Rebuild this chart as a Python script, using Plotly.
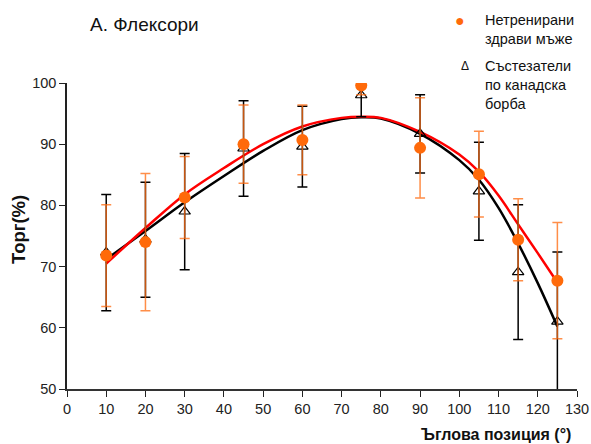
import plotly.graph_objects as go

# ---- data ----
angles = [10, 20, 30, 45, 60, 75, 90, 105, 115, 125]

untrained_mean = [71.8, 74.0, 81.3, 90.0, 90.7, 99.6, 89.4, 85.1, 74.4, 67.7]
untrained_sd = [8.3, 11.2, 6.7, 6.4, 5.7, 1.5, 8.2, 7.0, 6.7, 9.5]

wrestlers_mean = [72.3, 74.4, 79.0, 89.3, 89.6, 98.0, 91.7, 82.3, 69.1, 61.0]
wrestlers_sd = [9.5, 9.4, 9.5, 7.8, 6.6, 3.5, 6.4, 8.0, 11.0, 11.4]

fit_x = [10, 20, 30, 40, 50, 60, 70, 75, 80, 90, 100, 105, 110, 115, 120, 125]
fit_untrained = [70.5, 76.3, 81.8, 86.1, 90.0, 92.9, 94.3, 94.5, 94.3, 92.0, 88.3, 85.5, 81.6, 76.9, 72.2, 67.4]
fit_wrestlers = [71.2, 75.8, 80.5, 84.8, 88.9, 92.3, 94.1, 94.4, 94.2, 91.7, 87.4, 84.2, 79.6, 73.8, 67.3, 60.2]

x_ticks = list(range(0, 131, 10))
y_ticks = list(range(50, 101, 10))

title_text = "А. Флексори"
legend_untrained = "Нетренирани<br>здрави мъже"
legend_wrestlers = "Състезатели<br>по канадска<br>борба"
x_title = "Ъглова позиция (°)"
y_title = "Торг(%)"

ORANGE = "#ff6a0a"
FONT = "Liberation Sans, Arial, sans-serif"

W, H = 591, 444
L, R, T, B = 67, 14, 83, 55
PW, PH = W - L - R, H - T - B


def px(x):
    return (x - L) / PW


def py(y):
    return (H - B - y) / PH


fig = go.Figure()

fig.add_trace(go.Scatter(x=fit_x, y=fit_wrestlers, mode="lines", line=dict(color="black", width=2.5, shape="spline"),
                         showlegend=False, hoverinfo="skip"))
fig.add_trace(go.Scatter(x=fit_x, y=fit_untrained, mode="lines", line=dict(color="#ff0000", width=2.5, shape="spline"),
                         showlegend=False, hoverinfo="skip"))

fig.add_trace(go.Scatter(
    x=angles, y=wrestlers_mean, mode="markers",
    marker=dict(symbol="triangle-up-open", size=10, color="black", line=dict(width=1.2)),
    error_y=dict(type="data", array=wrestlers_sd, visible=True, color="black", thickness=1.5, width=5),
    showlegend=False))

fig.add_trace(go.Scatter(
    x=angles, y=untrained_mean, mode="markers",
    marker=dict(symbol="circle", size=12, color=ORANGE),
    error_y=dict(type="data", array=untrained_sd, visible=True, color="rgba(255,110,20,0.78)", thickness=1.5, width=5),
    showlegend=False))

annotations = [
    dict(text=title_text, x=px(88), y=py(24), xanchor="left", yanchor="middle",
         font=dict(size=19, color="#111", family=FONT)),
    dict(text="●", x=px(460), y=py(20), xanchor="center", yanchor="middle",
         font=dict(size=16, color=ORANGE, family=FONT)),
    dict(text=legend_untrained, x=px(483), y=py(10), xanchor="left", yanchor="top", align="left",
         font=dict(size=14.5, color="#111", family=FONT)),
    dict(text="Δ", x=px(465), y=py(66), xanchor="center", yanchor="middle",
         font=dict(size=12, color="#111", family=FONT)),
    dict(text=legend_wrestlers, x=px(483), y=py(56), xanchor="left", yanchor="top", align="left",
         font=dict(size=14.5, color="#111", family=FONT)),
    dict(text="<b>" + x_title + "</b>", x=px(573), y=py(434), xanchor="right", yanchor="middle",
         font=dict(size=16, color="#111", family=FONT)),
    dict(text="<b>" + y_title + "</b>", x=px(18), y=py(230), xanchor="center", yanchor="middle", textangle=-90,
         font=dict(size=18.5, color="#111", family=FONT)),
]
for a in annotations:
    a.update(xref="paper", yref="paper", showarrow=False)

axis_common = dict(ticks="outside", ticklen=6, tickwidth=1.2, tickcolor="#222", showline=True,
                   linewidth=1.5, showgrid=False, zeroline=False, automargin=False,
                   tickfont=dict(size=14.5, color="#222"), fixedrange=True)

fig.update_layout(
    template="none",
    width=W, height=H,
    margin=dict(l=L, r=R, t=T, b=B, pad=0, autoexpand=False),
    paper_bgcolor="white", plot_bgcolor="white",
    font=dict(family=FONT, size=15, color="#222"),
    annotations=annotations,
    showlegend=False,
    xaxis=dict(range=[0, 130], tickvals=x_ticks, linecolor="#333", **axis_common),
    yaxis=dict(range=[50, 100], tickvals=y_ticks, linecolor="#222", **axis_common),
)

fig.write_html("out.html")
